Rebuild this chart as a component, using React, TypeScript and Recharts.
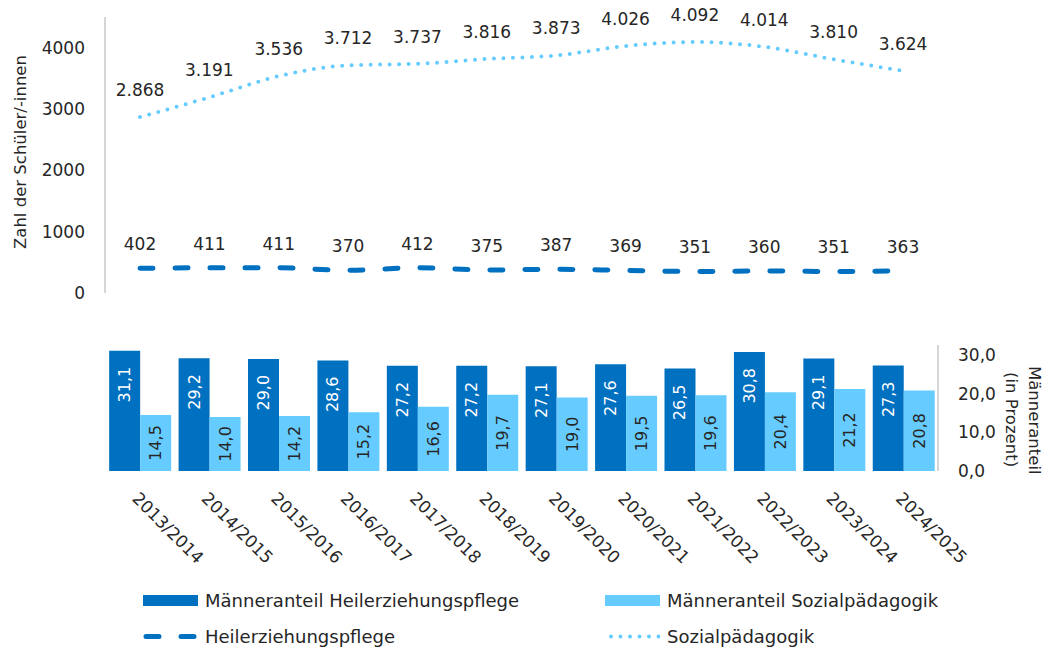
import React from "react";
import { LineChart, Line, BarChart, Bar, XAxis, YAxis, LabelList } from "recharts";

const YEARS = [
  "2013/2014", "2014/2015", "2015/2016", "2016/2017", "2017/2018", "2018/2019",
  "2019/2020", "2020/2021", "2021/2022", "2022/2023", "2023/2024", "2024/2025",
];
// Zahl der Schüler/-innen
const SOZ = [2868, 3191, 3536, 3712, 3737, 3816, 3873, 4026, 4092, 4014, 3810, 3624];
const HEP = [402, 411, 411, 370, 412, 375, 387, 369, 351, 360, 351, 363];
// Männeranteil in Prozent
const M_HEP = [31.1, 29.2, 29.0, 28.6, 27.2, 27.2, 27.1, 27.6, 26.5, 30.8, 29.1, 27.3];
const M_SOZ = [14.5, 14.0, 14.2, 15.2, 16.6, 19.7, 19.0, 19.5, 19.6, 20.4, 21.2, 20.8];
const COUNT_TICKS = [0, 1000, 2000, 3000, 4000];
const PCT_TICKS = [0, 10, 20, 30];

const DARK = "#0070C0";
const LIGHT = "#66CCFF";
const INK = "#262626";
const AXIS = "#c8c8c8";
const FONT = "'DejaVu Sans', sans-serif";

const thousands = (v: number) =>
  v >= 1000 ? `${Math.floor(v / 1000)}.${String(v % 1000).padStart(3, "0")}` : String(v);
const comma = (v: number) => Number(v).toFixed(1).replace(".", ",");

const lineData = YEARS.map((year, i) => ({ year, hep: HEP[i], soz: SOZ[i] }));
const barData = YEARS.map((year, i) => ({ year, mHep: M_HEP[i], mSoz: M_SOZ[i] }));

function DarkLabel(p: any) {
  const cx = p.x + p.width / 2;
  const y = p.y + 16;
  return (
    <text x={cx} y={y} transform={`rotate(-90, ${cx}, ${y})`} textAnchor="end"
      dominantBaseline="central" fill="#fff" fontSize={16} fontFamily={FONT}>
      {comma(p.value)}
    </text>
  );
}

function LightLabel(p: any) {
  const cx = p.x + p.width / 2;
  const y = p.y + p.height / 2;
  return (
    <text x={cx} y={y} transform={`rotate(-90, ${cx}, ${y})`} textAnchor="middle"
      dominantBaseline="central" fill={INK} fontSize={16} fontFamily={FONT}>
      {comma(p.value)}
    </text>
  );
}

function LegendItem({ x, y, kind, label }: { x: number; y: number; kind: string; label: string }) {
  let icon;
  if (kind === "darkbar") icon = <rect x={0} y={0} width={55} height={11} fill={DARK} />;
  else if (kind === "lightbar") icon = <rect x={0} y={0} width={55} height={11} fill={LIGHT} />;
  else if (kind === "dash")
    icon = <line x1={3} y1={5.5} x2={52} y2={5.5} stroke={DARK} strokeWidth={5} strokeDasharray="13 22" strokeLinecap="round" />;
  else
    icon = <line x1={6} y1={5.5} x2={55} y2={5.5} stroke={LIGHT} strokeWidth={4} strokeDasharray="0 9.5" strokeLinecap="round" />;
  return (
    <div style={{ position: "absolute", left: x, top: y - 11, height: 22, display: "flex", alignItems: "center" }}>
      <svg width={55} height={11} style={{ display: "block" }}>{icon}</svg>
      <span style={{ marginLeft: 7, fontSize: 18, fontFamily: FONT, color: INK, whiteSpace: "nowrap" }}>{label}</span>
    </div>
  );
}

export default function App() {
  const tickStyle = { fontSize: 17, fontFamily: FONT, fill: INK };
  return (
    <div style={{ position: "absolute", left: 0, top: 0, width: 1049, height: 648, background: "#fff" }}>
      <div style={{ position: "absolute", left: 0, top: 0 }}>
        <LineChart width={1049} height={310} data={lineData} margin={{ top: 17, right: 111, bottom: 17, left: 0 }}>
          <XAxis dataKey="year" hide padding={{ left: 35, right: 35 }} />
          <YAxis
            width={105}
            domain={[0, 4500]}
            ticks={COUNT_TICKS}
            tick={tickStyle}
            tickLine={false}
            tickSize={0}
            tickMargin={20}
            axisLine={{ stroke: AXIS, strokeWidth: 1.5 }}
          />
          <Line
            dataKey="soz"
            type="monotone"
            stroke={LIGHT}
            strokeWidth={4}
            strokeDasharray="0 9.5"
            strokeLinecap="round"
            dot={false}
            isAnimationActive={false}
          >
            <LabelList dataKey="soz" position="top" offset={21} formatter={(v: any) => thousands(Number(v))}
              style={{ fontSize: 17, fontFamily: FONT, fill: INK }} />
          </Line>
          <Line
            dataKey="hep"
            type="monotone"
            stroke={DARK}
            strokeWidth={5}
            strokeDasharray="13 22"
            strokeLinecap="round"
            dot={false}
            isAnimationActive={false}
          >
            <LabelList dataKey="hep" position="top" offset={18} formatter={(v: any) => thousands(Number(v))}
              style={{ fontSize: 17, fontFamily: FONT, fill: INK }} />
          </Line>
        </LineChart>
      </div>

      <div style={{ position: "absolute", left: 0, top: 330 }}>
        <BarChart width={1049} height={260} data={barData} margin={{ top: 15, right: 0, bottom: 0, left: 105 }}
          barCategoryGap="6%" barGap={0}>
          <XAxis
            dataKey="year"
            height={119}
            interval={0}
            axisLine={false}
            tickLine={false}
            tickSize={0}
            tickMargin={20}
            angle={45}
            textAnchor="start"
            tick={{ fontSize: 17, fontFamily: FONT, fill: INK }}
          />
          <YAxis
            orientation="right"
            width={111}
            domain={[0, 32.6]}
            ticks={PCT_TICKS}
            tickFormatter={(v: number) => comma(v)}
            tick={tickStyle}
            tickLine={false}
            tickSize={0}
            tickMargin={20}
            axisLine={{ stroke: AXIS, strokeWidth: 1.5 }}
          />
          <Bar dataKey="mHep" fill={DARK} isAnimationActive={false}>
            <LabelList dataKey="mHep" content={DarkLabel} />
          </Bar>
          <Bar dataKey="mSoz" fill={LIGHT} isAnimationActive={false}>
            <LabelList dataKey="mSoz" content={LightLabel} />
          </Bar>
        </BarChart>
      </div>

      {/* axis titles */}
      <div style={{ position: "absolute", left: 11, top: 45, width: 20, height: 214, display: "flex", justifyContent: "center",
        writingMode: "vertical-rl", transform: "rotate(180deg)", fontSize: 16.5, fontFamily: FONT, color: INK, whiteSpace: "nowrap" }}>
        Zahl der Schüler/-innen
      </div>
      <div style={{ position: "absolute", left: 1000, top: 352, width: 46, height: 136,
        writingMode: "vertical-rl", fontSize: 16.5, lineHeight: "23px", fontFamily: FONT, color: INK,
        textAlign: "center", whiteSpace: "nowrap" }}>
        Männeranteil<br />(in Prozent)
      </div>

      <LegendItem x={143} y={600} kind="darkbar" label="Männeranteil Heilerziehungspflege" />
      <LegendItem x={605} y={600} kind="lightbar" label="Männeranteil Sozialpädagogik" />
      <LegendItem x={143} y={636} kind="dash" label="Heilerziehungspflege" />
      <LegendItem x={605} y={636} kind="dotted" label="Sozialpädagogik" />
    </div>
  );
}
